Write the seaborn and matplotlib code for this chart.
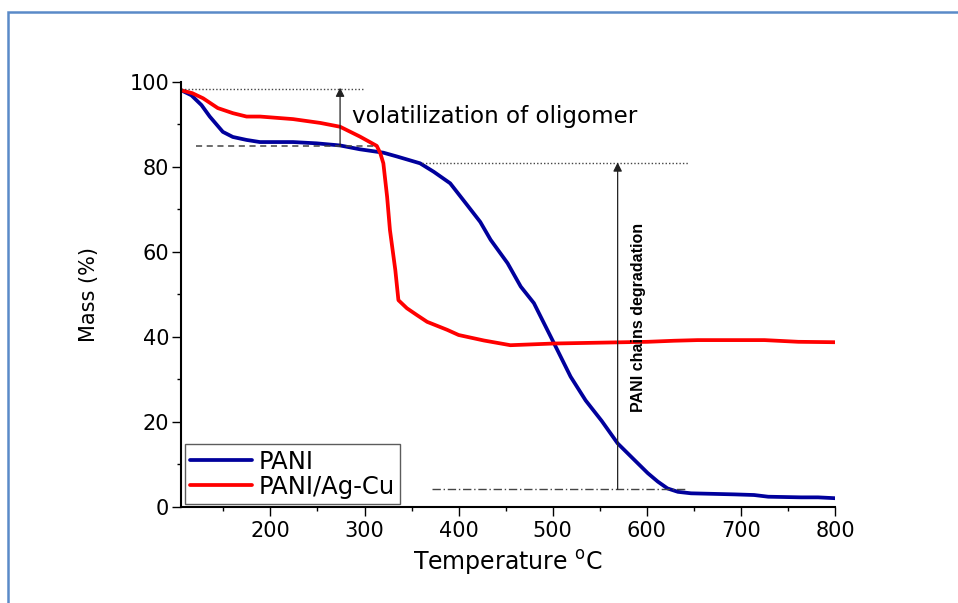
import matplotlib
matplotlib.use("Agg")
import matplotlib.pyplot as plt
from matplotlib.patches import Rectangle
from matplotlib.ticker import MultipleLocator
import seaborn as sns
import pandas as pd

# ---- data ----
pani_temp = [105, 116, 126.7, 135.5, 149.4, 160, 174.6, 188.8, 224, 249, 274, 295, 320,
             334.5, 359, 373.6, 391, 409, 423, 434, 452, 466, 480, 501.5, 519, 535, 552,
             569, 586.8, 601, 611.7, 622, 633, 647, 693, 714, 729, 764, 782, 800]
pani_mass = [98.0, 96.8, 94.5, 91.8, 88.2, 87.0, 86.3, 85.8, 85.8, 85.5, 85.0, 84.1, 83.3,
             82.4, 80.8, 78.8, 76.1, 71.0, 67.0, 62.8, 57.3, 51.8, 47.9, 38.4, 30.6, 25.0, 20.2,
             14.9, 11.0, 7.9, 5.9, 4.3, 3.5, 3.15, 2.9, 2.75, 2.35, 2.2, 2.2, 2.0]

agcu_temp = [105, 117, 128.4, 144, 160, 174.6, 189, 224, 253, 274, 295, 313, 316.7, 320,
             324, 327, 332.7, 336, 345, 355.6, 366.5, 388, 400, 427, 455, 501.5, 551, 601,
             629, 654, 725, 761, 800]
agcu_mass = [98.0, 97.3, 96.1, 93.8, 92.6, 91.8, 91.8, 91.2, 90.3, 89.4, 87.1, 84.9, 83.2,
             80.8, 72.9, 65.1, 55.7, 48.6, 46.7, 45.1, 43.5, 41.6, 40.4, 39.1, 38.0, 38.4,
             38.6, 38.8, 39.05, 39.2, 39.2, 38.8, 38.7]

series_names = ["PANI", "PANI/Ag-Cu"]
series_colors = ["#00009C", "#FF0000"]

x_ticks = [200, 300, 400, 500, 600, 700, 800]
y_ticks = [0, 20, 40, 60, 80, 100]

df = pd.concat([
    pd.DataFrame({"T": pani_temp, "M": pani_mass, "s": series_names[0]}),
    pd.DataFrame({"T": agcu_temp, "M": agcu_mass, "s": series_names[1]}),
])

sns.set_style("ticks")
plt.rcParams["font.family"] = ["DejaVu Sans"]
plt.rcParams["text.color"] = "black"
plt.rcParams["axes.labelcolor"] = "black"
plt.rcParams["xtick.color"] = "black"
plt.rcParams["ytick.color"] = "black"

fig = plt.figure(figsize=(9.58, 6.03), dpi=100)
ax = fig.add_axes([0.189, 0.1597, 0.6826, 0.7048])

sns.lineplot(data=df, x="T", y="M", hue="s", palette=dict(zip(series_names, series_colors)),
             estimator=None, sort=False, lw=2.7, ax=ax)

ax.set_xlim(105, 800)
ax.set_ylim(0, 100)
ax.set_xticks(x_ticks)
ax.set_yticks(y_ticks)
ax.xaxis.set_minor_locator(MultipleLocator(50))
ax.yaxis.set_minor_locator(MultipleLocator(10))
ax.tick_params(which="major", length=6.5, width=1.0, labelsize=15, color="black",
               labelcolor="black")
ax.tick_params(which="minor", length=3.2, width=1.0, color="black")
ax.tick_params(axis="y", pad=2)
ax.tick_params(axis="x", pad=4)
sns.despine(ax=ax)
for sp in ["left", "bottom"]:
    ax.spines[sp].set_linewidth(1.5)
    ax.spines[sp].set_color("black")

ax.set_xlabel("Temperature $\\mathregular{^o}$C", fontsize=17, labelpad=5)
ax.set_ylabel("Mass (%)", fontsize=15, labelpad=22)

# annotations
grey = "#444444"
ax.plot([105, 301], [98.4, 98.4], color=grey, lw=1.0, ls=(0, (1, 1.5)))
ax.plot([121, 311], [84.8, 84.8], color=grey, lw=1.1, ls=(0, (4, 3)))
ax.annotate("", xy=(274, 98.6), xytext=(274, 84.8),
            arrowprops=dict(arrowstyle="-|>", color="#222222", lw=0.9,
                            mutation_scale=13, shrinkA=0, shrinkB=0))
ax.text(286.6, 90.2, "volatilization of oligomer", fontsize=16.6, ha="left", va="baseline")

ax.plot([361, 645], [80.9, 80.9], color=grey, lw=1.0, ls=(0, (1, 1.5)))
ax.plot([372, 642], [4.1, 4.1], color=grey, lw=1.0, ls=(0, (6, 2, 1, 2)))
ax.annotate("", xy=(569, 81.0), xytext=(569, 4.1),
            arrowprops=dict(arrowstyle="-|>", color="#222222", lw=0.9,
                            mutation_scale=13, shrinkA=0, shrinkB=0))
ax.text(591, 44.6, "PANI chains degradation", rotation=90, fontsize=11.5,
        fontweight="bold", family=["Liberation Sans", "DejaVu Sans"],
        ha="center", va="center")

leg = ax.legend(loc="lower left", bbox_to_anchor=(0.006, 0.006), borderaxespad=0,
                fontsize=17.5, handlelength=2.55, handletextpad=0.25, labelspacing=0.05,
                borderpad=0.22, frameon=True, fancybox=False, title=None)
leg.get_frame().set_edgecolor("#333333")
leg.get_frame().set_linewidth(1.0)
for line in leg.get_lines():
    line.set_linewidth(2.7)

fig.patches.append(Rectangle((8 / 958, -0.1), 1.2, 1 - 12 / 603 + 0.1,
                             transform=fig.transFigure, fill=False,
                             edgecolor="#5A8AC8", lw=1.8, clip_on=False))

fig.savefig("out.png", dpi=100)
